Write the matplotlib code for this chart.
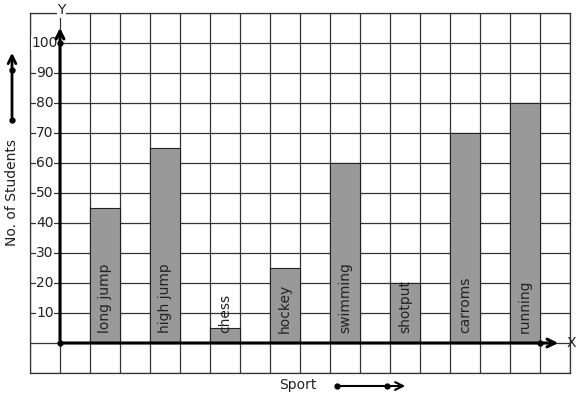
import matplotlib
matplotlib.use('Agg')
import matplotlib.pyplot as plt

# Datos del gráfico
deportes = ['long jump', 'high jump', 'chess', 'hockey', 'swimming', 'shotput', 'carroms', 'running']
alumnos = [45, 65, 5, 25, 60, 20, 70, 80]
marcas_y = [10, 20, 30, 40, 50, 60, 70, 80, 90, 100]

W, H = 577, 399
fig = plt.figure(figsize=(W / 100, H / 100), dpi=100)
ax = fig.add_axes([30 / W, 26 / H, 540 / W, 360 / H])

# Cuadrícula
ax.set_xlim(-1, 17)
ax.set_ylim(-10, 110)
ax.set_xticks(range(-1, 18))
ax.set_yticks(range(-10, 111, 10))
ax.grid(True, color='#333333', linewidth=0.9)
ax.set_axisbelow(True)
ax.tick_params(length=0, labelbottom=False, labelleft=False)
for s in ax.spines.values():
    s.set_color('#333333')
    s.set_linewidth(0.9)

# Barras
posiciones = [2 * i + 1.5 for i in range(len(deportes))]
ax.bar(posiciones, alumnos, width=1, color='#999999', edgecolor='#222222', linewidth=0.8, zorder=2)
for x, nombre in zip(posiciones, deportes):
    ax.text(x, 3.2, nombre, rotation=90, ha='center', va='bottom', fontsize=10, color='#222222', zorder=4)

# Ejes con flechas
ax.annotate('', xy=(0, 106), xytext=(0, 0), arrowprops=dict(arrowstyle='->', lw=2.2, color='black', mutation_scale=14), zorder=5)
ax.annotate('', xy=(16.7, 0), xytext=(0, 0), arrowprops=dict(arrowstyle='->', lw=2.2, color='black', mutation_scale=14), zorder=5)
ax.plot([0, 0, 16], [0, 100, 0], 'o', color='black', markersize=3.5, zorder=6)
ax.text(16.9, 0, 'X', ha='left', va='center', fontsize=10, color='#222222')
ax.text(0.05, 111, 'Y', ha='center', va='center', fontsize=10, color='#222222',
        bbox=dict(facecolor='white', edgecolor='none', pad=0.5), clip_on=False)

# Etiquetas del eje Y
for v in marcas_y:
    ax.text(-0.5, v, str(v), ha='center', va='center', fontsize=10, color='#222222',
            bbox=dict(facecolor='white', edgecolor='none', pad=0.3), zorder=3)

# Títulos de ejes y flechas decorativas
fig.text(12 / W, 1 - 193 / H, 'No. of Students', rotation=90, ha='center', va='center', fontsize=10, color='#222222')
fig.text(298 / W, 1 - 385 / H, 'Sport', ha='center', va='center', fontsize=10, color='#222222')

flecha = dict(arrowstyle='->', lw=2, color='black', mutation_scale=14)
ax.annotate('', xy=(12 / W, 1 - 50 / H), xytext=(12 / W, 1 - 120 / H), xycoords='figure fraction',
            textcoords='figure fraction', arrowprops=flecha)
ax.annotate('', xy=(408 / W, 1 - 386 / H), xytext=(337 / W, 1 - 386 / H), xycoords='figure fraction',
            textcoords='figure fraction', arrowprops=dict(arrowstyle='->', lw=1.5, color='black', mutation_scale=14))
fig.lines.extend([])
for (px, py) in [(12, 120), (12, 70), (337, 386), (387, 386)]:
    fig.add_artist(plt.Line2D([px / W], [1 - py / H], marker='o', markersize=3.5, color='black',
                              transform=fig.transFigure))

fig.savefig('out.png', dpi=100)
